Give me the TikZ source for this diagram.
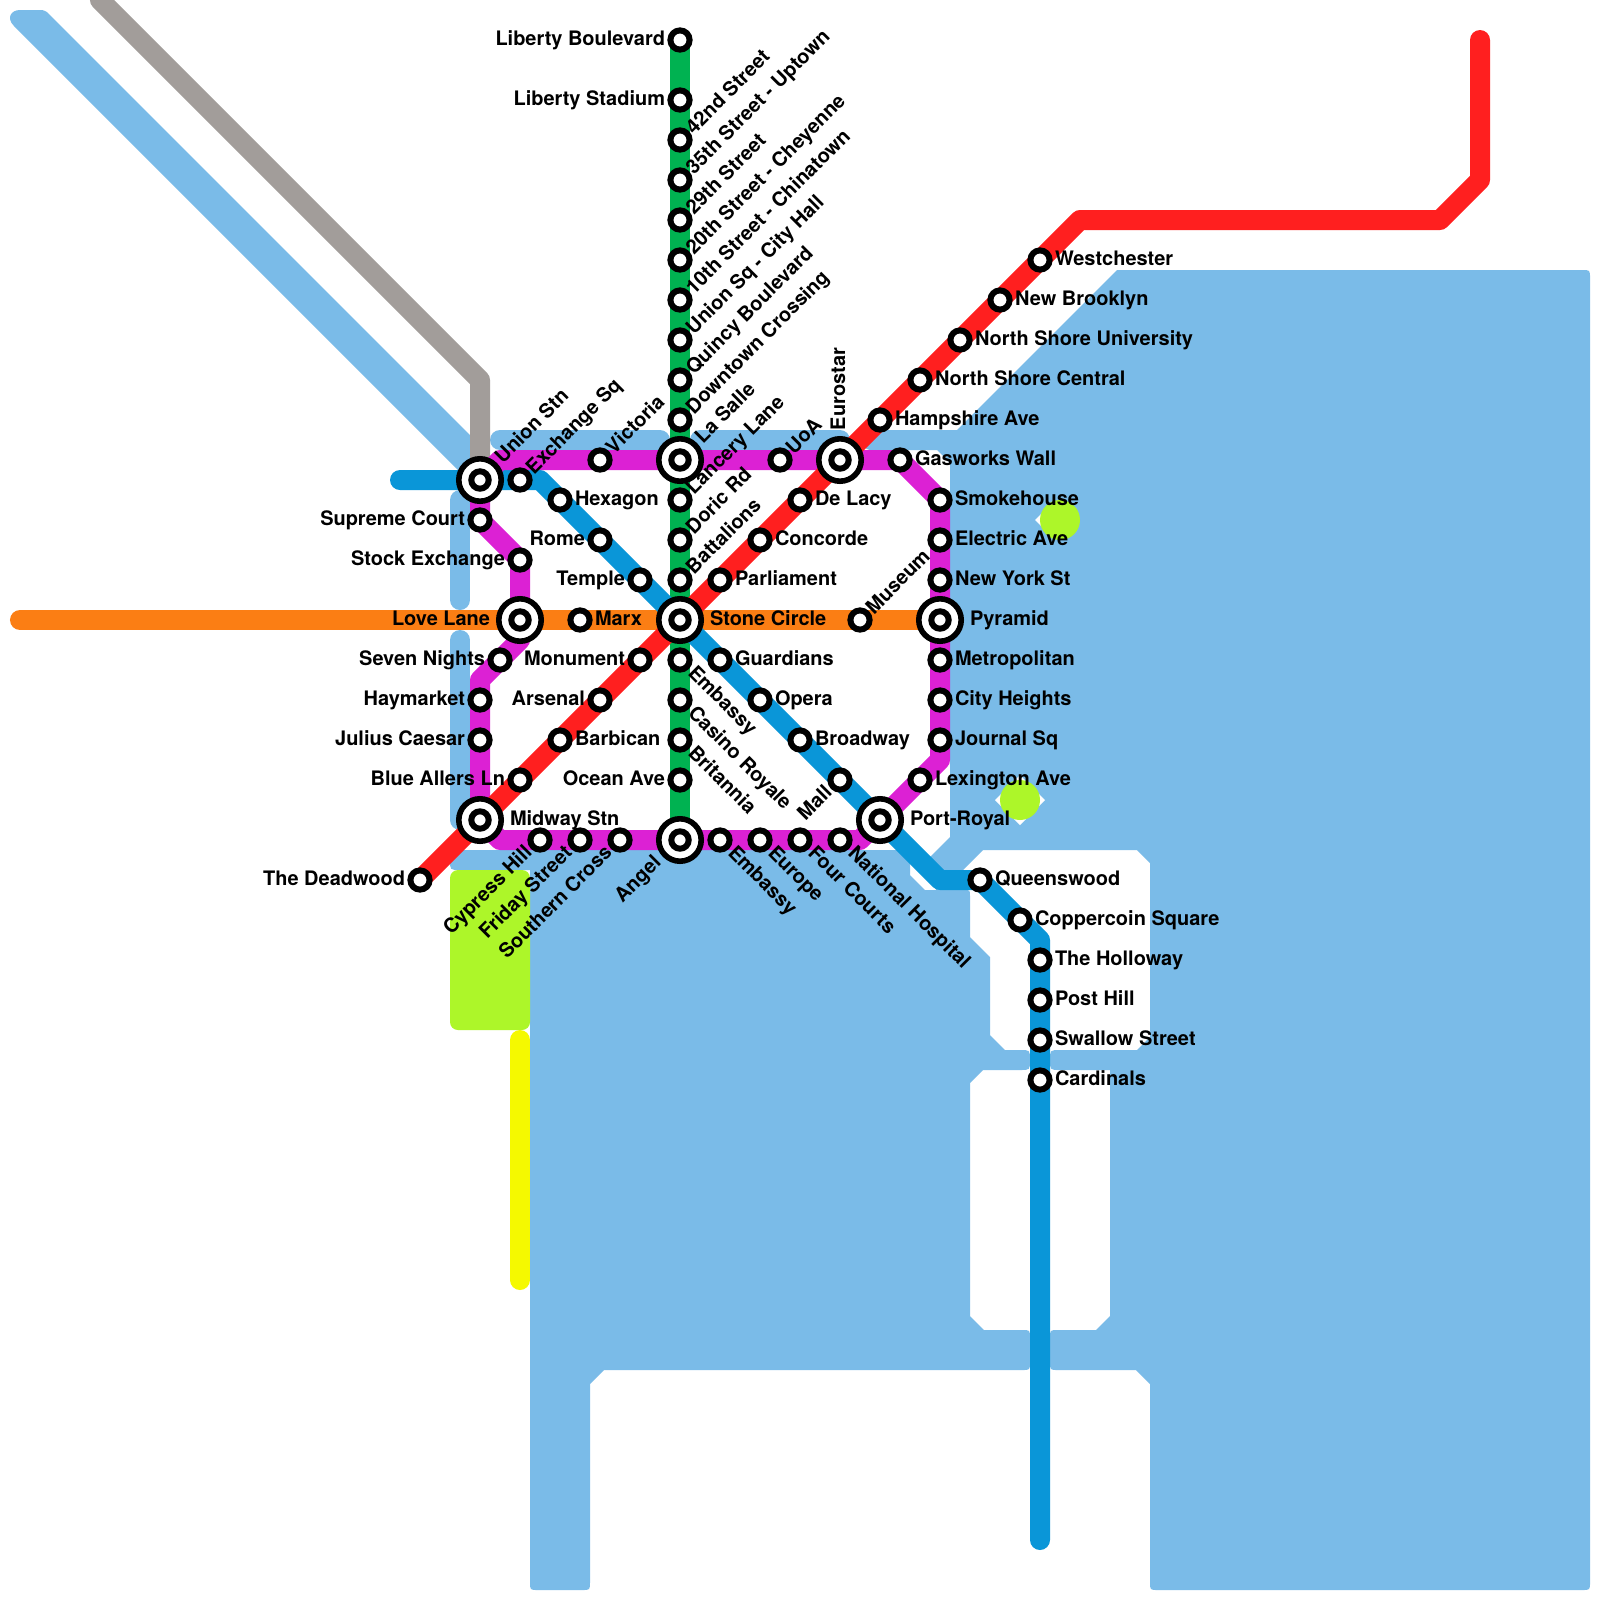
\documentclass[tikz,border=0pt]{standalone}
\usepackage{fontspec}
\setmainfont{TeX Gyre Heros}
\pgfdeclarelayer{bg}
\pgfsetlayers{bg,main}
\definecolor{cWater}{HTML}{7ABBE8}
\definecolor{cOrange}{HTML}{FB7E14}
\definecolor{cGreen}{HTML}{00B251}
\definecolor{cPurple}{HTML}{DC21D4}
\definecolor{cRed}{HTML}{FF1F1F}
\definecolor{cBlue}{HTML}{0A96D8}
\definecolor{cGrey}{HTML}{A29D9A}
\definecolor{cLime}{HTML}{ADF629}
\definecolor{cYellow}{HTML}{F5F900}
\tikzset{
  x=0.025cm,y=-0.025cm,
  route/.style={line width=0.5cm,line cap=round,line join=round},
  stream/.style={line width=0.5cm,line cap=round,color=cWater},
  station/.style={circle,draw=black,fill=white,line width=0.15cm,minimum size=0.48cm,inner sep=0pt,outer sep=0pt},
  hub/.style={circle,draw=black,fill=white,line width=0.14cm,minimum size=1.06cm,inner sep=0pt,outer sep=0pt,
    path picture={\draw[black,line width=0.15cm] (path picture bounding box.center) circle (8.7);}},
  txt/.style={font=\fontsize{14.2pt}{16pt}\selectfont\bfseries,text=black,inner sep=0pt,outer sep=0pt},
  lR/.style={txt,shift={(15,5.5)},anchor=base west},
  lL/.style={txt,shift={(-15,5.5)},anchor=base east},
  hR/.style={txt,shift={(30,5.5)},anchor=base west},
  hL/.style={txt,shift={(-30,5.5)},anchor=base east},
  lUR/.style={txt,shift={(14,-5)},rotate=45,anchor=base west},
  hUR/.style={txt,shift={(23,-16)},rotate=45,anchor=base west},
  lDR/.style={txt,shift={(7,14)},rotate=-45,anchor=base west},
  lDL/.style={txt,shift={(-7,14)},rotate=45,anchor=base east},
  hDL/.style={txt,shift={(-18,24)},rotate=45,anchor=base east},
  hV/.style={txt,shift={(5,-30)},rotate=90,anchor=base west},
}
\newcommand{\st}[5]{\node[station] (#1) at (#2,#3) {}; \node[#4] (#1-t) at (#1.center) {#5};}
\newcommand{\hb}[5]{\node[hub] (#1) at (#2,#3) {}; \node[#4] (#1-t) at (#1.center) {#5};}
\begin{document}
\begin{tikzpicture}
\useasboundingbox (0,0) rectangle (1600,1600);
% green line
\st{libb}{680}{40}{lL}{Liberty Boulevard}
\st{libs}{680}{100}{lL}{Liberty Stadium}
\st{s42}{680}{140}{lUR}{42nd Street}
\st{s35}{680}{180}{lUR}{35th Street - Uptown}
\st{s29}{680}{220}{lUR}{29th Street}
\st{s20}{680}{260}{lUR}{20th Street - Cheyenne}
\st{s10}{680}{300}{lUR}{10th Street - Chinatown}
\st{usq}{680}{340}{lUR}{Union Sq - City Hall}
\st{quin}{680}{380}{lUR}{Quincy Boulevard}
\st{down}{680}{420}{lUR}{Downtown Crossing}
\hb{lasa}{680}{460}{hUR}{La Salle}
\st{lanc}{680}{500}{lUR}{Lancery Lane}
\st{dori}{680}{540}{lUR}{Doric Rd}
\st{batt}{680}{580}{lUR}{Battalions}
\hb{ston}{680}{620}{hR}{Stone Circle}
\st{emba}{680}{660}{lDR}{Embassy}
\st{casi}{680}{700}{lDR}{Casino Royale}
\st{brit}{680}{740}{lDR}{Britannia}
\st{ocea}{680}{780}{lL}{Ocean Ave}
\hb{ange}{680}{840}{hDL}{Angel}
% purple line
\hb{unio}{480}{480}{hUR}{Union Stn}
\st{vict}{600}{460}{lUR}{Victoria}
\st{uoa}{780}{460}{lUR}{UoA}
\hb{euro}{840}{460}{hV}{Eurostar}
\st{gasw}{900}{460}{lR}{Gasworks Wall}
\st{smok}{940}{500}{lR}{Smokehouse}
\st{elec}{940}{540}{lR}{Electric Ave}
\st{newy}{940}{580}{lR}{New York St}
\hb{pyra}{940}{620}{hR}{Pyramid}
\st{metr}{940}{660}{lR}{Metropolitan}
\st{city}{940}{700}{lR}{City Heights}
\st{jour}{940}{740}{lR}{Journal Sq}
\st{lexi}{920}{780}{lR}{Lexington Ave}
\hb{port}{880}{820}{hR}{Port-Royal}
\st{nati}{840}{840}{lDR}{National Hospital}
\st{four}{800}{840}{lDR}{Four Courts}
\st{euro2}{760}{840}{lDR}{Europe}
\st{emb2}{720}{840}{lDR}{Embassy}
\st{sout}{620}{840}{lDL}{Southern Cross}
\st{frid}{580}{840}{lDL}{Friday Street}
\st{cypr}{540}{840}{lDL}{Cypress Hill}
\hb{midw}{480}{820}{hR}{Midway Stn}
\st{juli}{480}{740}{lL}{Julius Caesar}
\st{haym}{480}{700}{lL}{Haymarket}
\st{seve}{500}{660}{lL}{Seven Nights}
\hb{love}{520}{620}{hL}{Love Lane}
\st{stoc}{520}{560}{lL}{Stock Exchange}
\st{supr}{480}{520}{lL}{Supreme Court}
% red line
\st{dead}{420}{880}{lL}{The Deadwood}
\st{blue}{520}{780}{lL}{Blue Allers Ln}
\st{barb}{560}{740}{lR}{Barbican}
\st{arse}{600}{700}{lL}{Arsenal}
\st{monu}{640}{660}{lL}{Monument}
\st{parl}{720}{580}{lR}{Parliament}
\st{conc}{760}{540}{lR}{Concorde}
\st{dela}{800}{500}{lR}{De Lacy}
\st{hamp}{880}{420}{lR}{Hampshire Ave}
\st{nsc}{920}{380}{lR}{North Shore Central}
\st{nsu}{960}{340}{lR}{North Shore University}
\st{newb}{1000}{300}{lR}{New Brooklyn}
\st{west}{1040}{260}{lR}{Westchester}
% blue line
\st{exch}{520}{480}{lUR}{Exchange Sq}
\st{hexa}{560}{500}{lR}{Hexagon}
\st{rome}{600}{540}{lL}{Rome}
\st{temp}{640}{580}{lL}{Temple}
\st{guar}{720}{660}{lR}{Guardians}
\st{oper}{760}{700}{lR}{Opera}
\st{broa}{800}{740}{lR}{Broadway}
\st{mall}{840}{780}{lDL}{Mall}
\st{quee}{980}{880}{lR}{Queenswood}
\st{copp}{1020}{920}{lR}{Coppercoin Square}
\st{holl}{1040}{960}{lR}{The Holloway}
\st{post}{1040}{1000}{lR}{Post Hill}
\st{swal}{1040}{1040}{lR}{Swallow Street}
\st{card}{1040}{1080}{lR}{Cardinals}
% orange line
\st{marx}{580}{620}{lR}{Marx}
\st{muse}{860}{620}{lUR}{Museum}
% free ends and bends
\coordinate (oStart) at (20,620);
\coordinate (gStart) at (100,0);
\coordinate (gBend) at (480,380);
\coordinate (bStart) at (400,480);
\coordinate (bEnd) at (1040,1540);
\coordinate (bA) at (540,480);
\coordinate (bB) at (940,880);
\coordinate (bC) at (1040,940);
\coordinate (rA) at (1080,220);
\coordinate (rB) at (1440,220);
\coordinate (rC) at (1480,180);
\coordinate (rD) at (1480,40);
\coordinate (pA) at (500,460);
\coordinate (pB) at (940,760);
\coordinate (pC) at (860,840);
\coordinate (pD) at (500,840);
\coordinate (pE) at (480,680);
\coordinate (pF) at (520,640);
\begin{pgfonlayer}{bg}
\fill[white] (0,0) rectangle (1600,1600);
% water
\fill[cWater] (1117,270) -- (1582,270) .. controls (1590,270) .. (1590,278) -- (1590,1582) .. controls (1590,1590) .. (1582,1590) -- (1158,1590) .. controls (1150,1590) .. (1150,1582) -- (1150,1384) -- (1136,1370) -- (1058,1370) .. controls (1050,1370) .. (1050,1362) -- (1050,1338) .. controls (1050,1330) .. (1058,1330) -- (1096,1330) -- (1110,1316) -- (1110,1070) -- (1060,1070) .. controls (1050,1070) .. (1050,1060) .. controls (1050,1050) .. (1060,1050) -- (1137,1050) -- (1150,1037) -- (1150,863) -- (1137,850) -- (983,850) -- (960,873) -- (960,885) -- (964,890) .. controls (970,890) .. (970,896) -- (970,937) -- (990,957) -- (990,1035) -- (1005,1050) -- (1020,1050) .. controls (1030,1050) .. (1030,1060) .. controls (1030,1070) .. (1020,1070) -- (983,1070) -- (970,1083) -- (970,1316) -- (984,1330) -- (1022,1330) .. controls (1030,1330) .. (1030,1338) -- (1030,1362) .. controls (1030,1370) .. (1022,1370) -- (604,1370) -- (590,1384) -- (590,1582) .. controls (590,1590) .. (582,1590) -- (538,1590) .. controls (530,1590) .. (530,1582) -- (530,870) -- (460,870) .. controls (450,870) .. (450,860) .. controls (450,850) .. (460,850) -- (910,850) -- (910,875) -- (925,890) -- (936,890) -- (930,857) -- (950,837) -- (950,463) -- (937,450) -- (875,450) .. controls (865,450) .. (865,440) .. controls (865,430) .. (875,430) -- (957,430) -- cycle;
\fill[cWater] (20,10) -- (38,10) .. controls (43,10) .. (47,12) -- (480,445) -- (480,492) -- (14,26) .. controls (6,18) and (11,10) .. (20,10) -- cycle;
\draw[stream] (500,440) -- (660,440);
\draw[stream] (700,440) -- (840,440);
\draw[stream] (460,500) -- (460,600);
\draw[stream] (460,640) -- (460,820);
% diamonds and parks
\fill[white] (1035,520) -- (1050,505) -- (1050,535) -- cycle;
\fill[white] (995,800) -- (1020,775) -- (1045,800) -- (1020,825) -- cycle;
\fill[cLime] (1060,520) circle (20);
\fill[cLime] (1020,800) circle (20);
\fill[cLime,rounded corners=0.2cm] (450,870) rectangle (530,1030);
\draw[route,cYellow] (520,1040) -- (520,1280);
% lines
\draw[route,cGrey] (gStart) -- (gBend) -- (unio.center);
\draw[route,cGreen] (libb.center) -- (libs.center) -- (s42.center) -- (s35.center) -- (s29.center) -- (s20.center) -- (s10.center) -- (usq.center) -- (quin.center) -- (down.center) -- (lasa.center) -- (lanc.center) -- (dori.center) -- (batt.center) -- (ston.center) -- (emba.center) -- (casi.center) -- (brit.center) -- (ocea.center) -- (ange.center);
\draw[route,cOrange] (oStart) -- (love.center) -- (marx.center) -- (ston.center) -- (muse.center) -- (pyra.center);
\draw[route,cBlue] (bStart) -- (unio.center) -- (exch.center) -- (bA) -- (hexa.center) -- (rome.center) -- (temp.center) -- (ston.center) -- (guar.center) -- (oper.center) -- (broa.center) -- (mall.center) -- (port.center) -- (bB) -- (quee.center) -- (copp.center) -- (bC) -- (holl.center) -- (post.center) -- (swal.center) -- (card.center) -- (bEnd);
\draw[route,cPurple] (unio.center) -- (pA) -- (vict.center) -- (lasa.center) -- (uoa.center) -- (euro.center) -- (gasw.center) -- (smok.center) -- (elec.center) -- (newy.center) -- (pyra.center) -- (metr.center) -- (city.center) -- (jour.center) -- (pB) -- (lexi.center) -- (port.center) -- (pC) -- (nati.center) -- (four.center) -- (euro2.center) -- (emb2.center) -- (ange.center) -- (sout.center) -- (frid.center) -- (cypr.center) -- (pD) -- (midw.center) -- (juli.center) -- (haym.center) -- (pE) -- (seve.center) -- (pF) -- (love.center) -- (stoc.center) -- (supr.center) -- (unio.center);
\draw[route,cRed] (dead.center) -- (midw.center) -- (blue.center) -- (barb.center) -- (arse.center) -- (monu.center) -- (ston.center) -- (parl.center) -- (conc.center) -- (dela.center) -- (euro.center) -- (hamp.center) -- (nsc.center) -- (nsu.center) -- (newb.center) -- (west.center) -- (rA) -- (rB) -- (rC) -- (rD);
\end{pgfonlayer}
\end{tikzpicture}
\end{document}
